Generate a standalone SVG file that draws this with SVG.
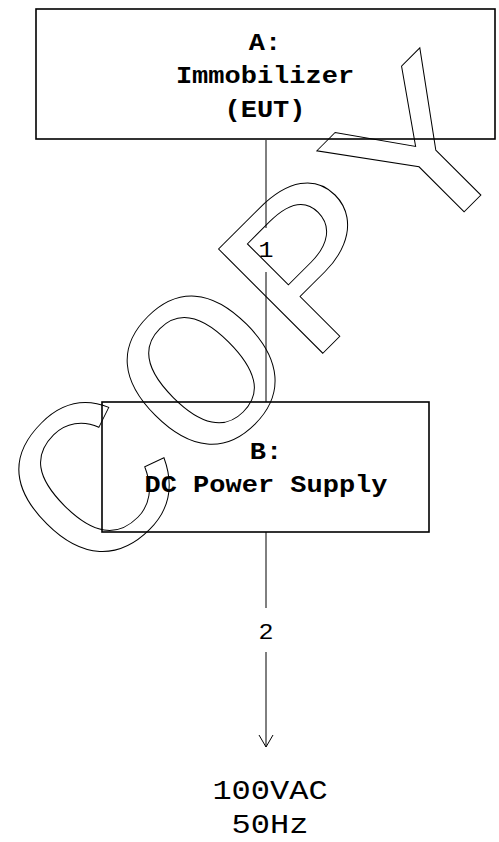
<svg xmlns="http://www.w3.org/2000/svg" width="499" height="842" viewBox="0 0 499 842">
<style>
.box{fill:none;stroke:#000;stroke-width:1.6}
.ln{fill:none;stroke:#000;stroke-width:1}
.bt{font-family:"Liberation Mono","Courier New",monospace;font-weight:bold;font-size:27px;text-anchor:middle;fill:#000}
.rt{font-family:"Liberation Mono","Courier New",monospace;font-size:25px;text-anchor:middle;fill:#000}
.big{font-family:"Liberation Mono","Courier New",monospace;font-size:32px;text-anchor:middle;fill:#000}
.wm{font-family:"Liberation Mono","Courier New",monospace;font-size:258px;fill:none;stroke:#000;stroke-width:1}
</style>
<rect width="499" height="842" fill="#fff"/>
<g id="connectors">
<line class="ln" x1="266" y1="140" x2="266" y2="228"/>
<line class="ln" x1="266" y1="272" x2="266" y2="402"/>
<text class="rt" transform="translate(266,257) scale(1,0.87)">1</text>
<line class="ln" x1="266" y1="532" x2="266" y2="608"/>
<line class="ln" x1="266" y1="652" x2="266" y2="747"/>
<polyline class="ln" points="259,735 266,747 273,735"/>
<text class="rt" transform="translate(266,639) scale(1,0.87)">2</text>
</g>
<g id="nodeA">
<rect class="box" x="36" y="9" width="459" height="130"/>
<text class="bt" transform="translate(265,50) scale(1,0.87)">A:</text>
<text class="bt" transform="translate(265,83) scale(1,0.87)">Immobilizer</text>
<text class="bt" transform="translate(265,117) scale(1,0.87)">(EUT)</text>
</g>
<g id="nodeB">
<rect class="box" x="102" y="402" width="327" height="130"/>
<text class="bt" transform="translate(266,459) scale(1,0.87)">B:</text>
<text class="bt" transform="translate(266,492) scale(1,0.87)">DC Power Supply</text>
</g>
<g id="nodeAC">
<text class="big" transform="translate(270,799) scale(1,0.87)">100VAC</text>
<text class="big" transform="translate(270,833) scale(1,0.87)">50Hz</text>
</g>
<g id="watermark">
<text class="wm" vector-effect="non-scaling-stroke" transform="translate(89.4,586.6) rotate(-45) scale(1,0.867)">COPY</text>
</g>
</svg>
